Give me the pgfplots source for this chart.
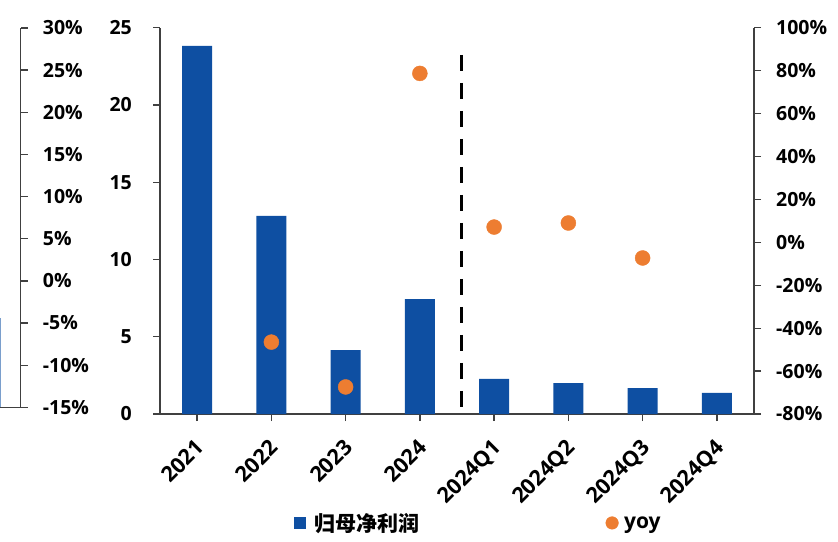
\documentclass[border=0pt]{standalone}
\usepackage{pgfplots}
\pgfplotsset{compat=1.18}
\usepackage{fontspec}
\setmainfont{Open Sans}
\newfontfamily\cjk{Noto Sans CJK SC}
\definecolor{barblue}{RGB}{14,79,162}
\definecolor{dotorange}{RGB}{237,125,49}
\definecolor{axisgray}{RGB}{64,64,64}

\pgfplotsset{
  common/.style={
    scale only axis,
    tick align=outside,
    major tick length=7pt,
    axis line style={axisgray, line width=1.3pt},
    tick style={axisgray, line width=1.3pt},
    tick label style={font=\fontsize{19.5}{22}\selectfont\bfseries},
    /pgf/number format/assume math mode=true,
  },
  pct/.style={yticklabel={\pgfmathprintnumber{\tick}\%}},
}

\begin{document}
\begin{tikzpicture}[x=1pt,y=1pt]
\path[use as bounding box] (0,0) rectangle (838,541);

% edge of the neighbouring panel: its right-hand percentage axis
\begin{axis}[common, pct,
  at={(20.7pt,133.7pt)}, anchor=south east,
  width=100pt, height=379.3pt,
  xmin=0, xmax=1, ymin=-15, ymax=30,
  axis y line*=right, axis x line=none,
  ytick={-15,-10,...,30},
  yticklabel style={anchor=west, inner sep=0pt, xshift=15pt},
  clip=false]
\addplot[draw=barblue!55, line width=1pt] coordinates {(0.798,-15) (0.798,-4.4)};
\draw[axisgray, line width=1.3pt] (axis cs:0.79,-15) -- (axis cs:1.065,-15);
\end{axis}

% net profit bars
\begin{axis}[common,
  at={(160pt,127pt)}, anchor=south west,
  width=594pt, height=386.3pt,
  xmin=-0.5, xmax=7.5, ymin=0, ymax=25,
  axis x line*=bottom, axis y line*=left,
  x axis line style={shorten <=-7pt, shorten >=-4pt},
  xtick={0,...,7},
  xticklabels={2021,2022,2023,2024,2024Q1,2024Q2,2024Q3,2024Q4},
  xticklabel style={rotate=45, anchor=north east, inner sep=0pt,
    font=\fontsize{21.5}{24}\selectfont\bfseries, xshift=-14pt, yshift=-10pt},
  ytick={0,5,...,25},
  yticklabel style={anchor=east, inner sep=0pt, xshift=-21pt},
  ybar, bar width=30pt,
  clip=false]
\addplot[fill=barblue, draw=none] coordinates {
  (0,23.82) (1,12.82) (2,4.14) (3,7.44)
  (4,2.27) (5,2.00) (6,1.68) (7,1.36)};
\draw[black, line width=3.5pt, dash pattern=on 16pt off 12pt]
  (axis cs:3.56,23.24) -- (axis cs:3.56,0.45);
\end{axis}

% year-on-year growth
\begin{axis}[common, pct,
  at={(160pt,127pt)}, anchor=south west,
  width=594pt, height=386.3pt,
  xmin=-0.5, xmax=7.5, ymin=-80, ymax=100,
  axis y line*=right, axis x line=none,
  ytick={-80,-60,...,100},
  yticklabel style={anchor=west, inner sep=0pt, xshift=15pt},
  legend style={at={(0.2256,-0.282)}, anchor=west, draw=none, fill=none,
    legend columns=2, inner sep=0pt,
    font=\fontsize{21}{24}\selectfont\bfseries,
    nodes={inner sep=0pt}},
  legend cell align=left,
  clip=false]
\addlegendimage{legend image code/.code={\fill[barblue] (0pt,-5.5pt) rectangle (11pt,5.5pt);}}
\addlegendentry{\makebox[300pt][l]{\hspace{9pt}{\cjk\bfseries 归母净利润}}}
\addplot[only marks, mark=*, mark size=7.5pt, color=dotorange,
  legend image code/.code={\fill[dotorange] (6.3pt,0pt) circle (6.3pt);}]
  coordinates {(1,-46.5) (2,-67.4) (3,78.7) (4,7.1) (5,9.0) (6,-7.3)};
\addlegendentry{\hspace{5.5pt}yoy}
\end{axis}
\end{tikzpicture}
\end{document}
